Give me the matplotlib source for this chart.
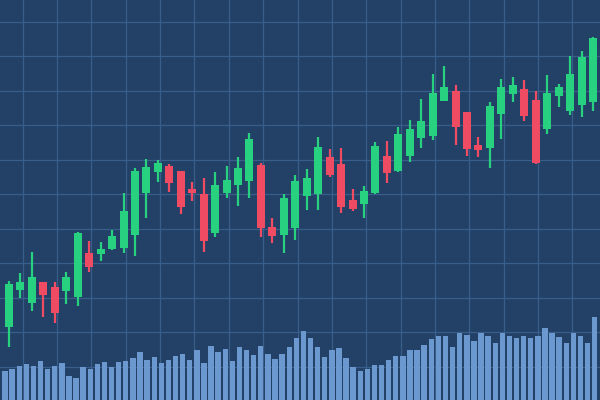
import matplotlib
matplotlib.use("Agg")
import matplotlib.pyplot as plt
import numpy as np

# candle data (price units), one entry per session
opens  = [73, 110, 97, 118, 113, 109, 103, 147, 146, 151, 152, 165, 207,
          228, 234, 229, 211, 206, 167, 207, 215, 219, 235, 173, 165, 172,
          204, 206, 243, 236, 200, 196, 207, 244, 229, 244, 262, 264, 299,
          309, 288, 255, 252, 286, 306, 311, 300, 271, 304, 289, 295, 298]
highs  = [119, 127, 148, 118, 118, 128, 168, 159, 158, 170, 207, 232, 241,
          240, 236, 229, 218, 222, 228, 234, 243, 267, 237, 182, 206, 225,
          231, 263, 251, 252, 211, 214, 258, 259, 273, 280, 301, 326, 334,
          315, 288, 263, 298, 321, 323, 320, 309, 325, 316, 344, 349, 363]
lows   = [53, 102, 89, 83, 77, 96, 94, 128, 139, 150, 147, 144, 182,
          218, 208, 186, 199, 148, 163, 202, 194, 202, 163, 157, 147, 160,
          190, 190, 223, 187, 189, 182, 206, 217, 228, 238, 252, 260, 299,
          255, 244, 243, 232, 261, 298, 279, 236, 266, 293, 285, 283, 289]
closes = [116, 118, 123, 105, 87, 123, 167, 133, 151, 164, 189, 229, 233,
          237, 217, 193, 207, 159, 215, 220, 232, 261, 172, 164, 202, 219,
          222, 253, 225, 193, 191, 209, 254, 227, 266, 271, 279, 307, 313,
          273, 251, 250, 294, 313, 315, 284, 237, 307, 313, 326, 343, 362]

volumes = [29, 31, 34.3, 35.7, 34.3, 38.7, 31.3, 34.3, 37.3, 23.7,
           22, 33, 31, 36, 38.3, 33.3, 38.3, 39.3, 42.3, 47.7,
           40, 43, 37.3, 40, 43.7, 46, 39.7, 50, 37, 54,
           48, 51.3, 39.3, 53.3, 49.7, 45, 53.7, 46, 41, 46,
           53, 61.7, 69, 61.7, 53.3, 43, 50, 51.7, 42.3, 33.3,
           29.3, 31.3, 35.3, 35.3, 39.7, 44.3, 44.3, 50, 50, 55.3,
           61, 63.7, 64.3, 52.7, 67.3, 64.7, 59, 67.3, 64.3, 57,
           67.3, 64.3, 62.3, 64.3, 62.3, 64.3, 72, 67.3, 62.7, 57,
           67.3, 64.3, 57, 82.7]

bg = "#234166"
grid_col = "#3a5e8c"
up_col = "#27d17f"
down_col = "#ef4b63"
vol_col = "#6a98cf"

fig = plt.figure(figsize=(6, 4), dpi=100)
fig.patch.set_facecolor(bg)
ax = fig.add_axes([0, 0, 1, 1])
ax.set_facecolor(bg)
ax.set_xlim(0, 600)
ax.set_ylim(0, 400)

# grid
ax.set_xticks(22.7 + 34.35 * np.arange(17))
ax.set_yticks(400 - (22 + 34.45 * np.arange(11)))
ax.grid(True, color=grid_col, linewidth=0.9)
ax.set_axisbelow(True)
ax.tick_params(length=0, labelbottom=False, labelleft=False)
for s in ax.spines.values():
    s.set_visible(False)

# volume bars
vx = 5 + 7.105 * np.arange(len(volumes))
ax.bar(vx, volumes, width=5.4, color=vol_col, zorder=2)

# candles
cx = 9 + 11.45 * np.arange(len(opens))
for i in range(len(opens)):
    o, h, l, c = opens[i], highs[i], lows[i], closes[i]
    col = up_col if c >= o else down_col
    ax.vlines(cx[i], l, h, color=col, linewidth=1.6, zorder=3)
    ax.bar(cx[i], abs(c - o), bottom=min(o, c), width=8, color=col, zorder=4)

fig.savefig("out.png", dpi=100, facecolor=bg)
